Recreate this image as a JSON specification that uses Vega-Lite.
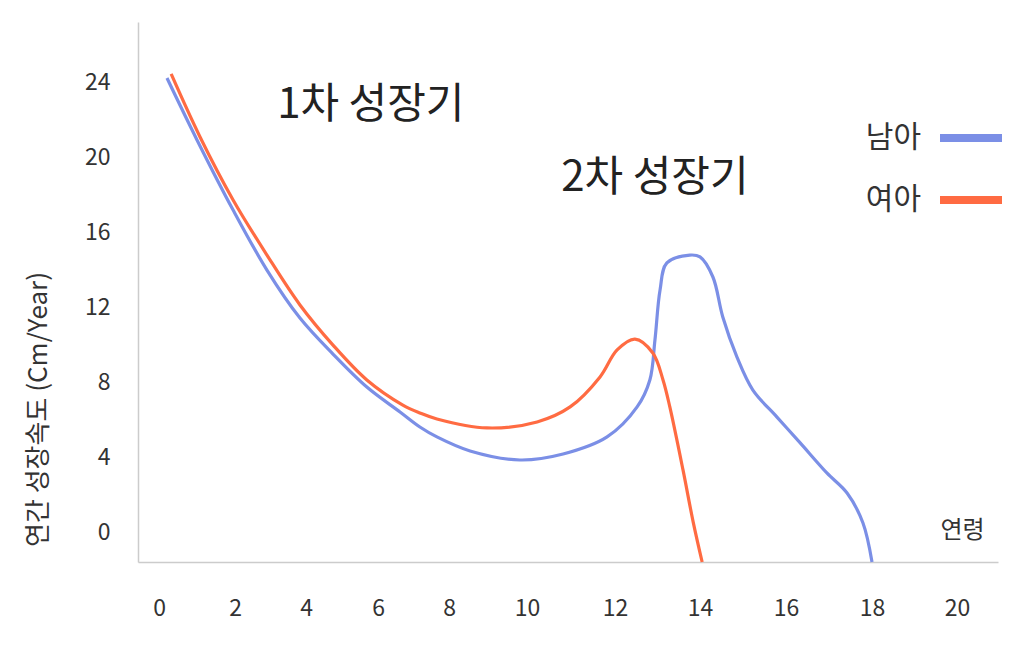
{
  "$schema": "https://vega.github.io/schema/vega-lite/v6.json",
  "width": 860,
  "height": 540,
  "autosize": "none",
  "padding": {"left": 138, "top": 22, "right": 16, "bottom": 92},
  "background": "white",
  "config": {
    "font": "Noto Sans CJK KR",
    "view": {"stroke": null}
  },
  "layer": [
    {
      "data": {
        "values": [
          {"sex": "남아", "age": 0.21, "rate": 24.21},
          {"sex": "남아", "age": 1.0, "rate": 20.91},
          {"sex": "남아", "age": 1.95, "rate": 17.17},
          {"sex": "남아", "age": 2.9, "rate": 13.97},
          {"sex": "남아", "age": 3.83, "rate": 11.41},
          {"sex": "남아", "age": 4.75, "rate": 9.49},
          {"sex": "남아", "age": 5.69, "rate": 7.73},
          {"sex": "남아", "age": 6.62, "rate": 6.4},
          {"sex": "남아", "age": 7.18, "rate": 5.6},
          {"sex": "남아", "age": 7.66, "rate": 5.07},
          {"sex": "남아", "age": 8.54, "rate": 4.32},
          {"sex": "남아", "age": 9.82, "rate": 3.84},
          {"sex": "남아", "age": 10.82, "rate": 4.16},
          {"sex": "남아", "age": 11.82, "rate": 5.07},
          {"sex": "남아", "age": 12.52, "rate": 6.67},
          {"sex": "남아", "age": 12.82, "rate": 8.11},
          {"sex": "남아", "age": 12.94, "rate": 10.24},
          {"sex": "남아", "age": 13.06, "rate": 12.91},
          {"sex": "남아", "age": 13.22, "rate": 14.35},
          {"sex": "남아", "age": 13.76, "rate": 14.77},
          {"sex": "남아", "age": 14.0, "rate": 14.67},
          {"sex": "남아", "age": 14.3, "rate": 13.6},
          {"sex": "남아", "age": 14.53, "rate": 11.47},
          {"sex": "남아", "age": 14.86, "rate": 9.33},
          {"sex": "남아", "age": 15.23, "rate": 7.57},
          {"sex": "남아", "age": 15.79, "rate": 6.13},
          {"sex": "남아", "age": 16.33, "rate": 4.75},
          {"sex": "남아", "age": 16.95, "rate": 3.15},
          {"sex": "남아", "age": 17.42, "rate": 2.08},
          {"sex": "남아", "age": 17.79, "rate": 0.48},
          {"sex": "남아", "age": 18.0, "rate": -1.6},
          {"sex": "여아", "age": 0.32, "rate": 24.43},
          {"sex": "여아", "age": 1.08, "rate": 21.07},
          {"sex": "여아", "age": 1.95, "rate": 17.71},
          {"sex": "여아", "age": 2.9, "rate": 14.77},
          {"sex": "여아", "age": 3.83, "rate": 12.11},
          {"sex": "여아", "age": 4.75, "rate": 9.97},
          {"sex": "여아", "age": 5.69, "rate": 8.11},
          {"sex": "여아", "age": 6.7, "rate": 6.77},
          {"sex": "여아", "age": 7.18, "rate": 6.35},
          {"sex": "여아", "age": 7.66, "rate": 6.03},
          {"sex": "여아", "age": 8.97, "rate": 5.55},
          {"sex": "여아", "age": 10.23, "rate": 5.87},
          {"sex": "여아", "age": 10.98, "rate": 6.67},
          {"sex": "여아", "age": 11.66, "rate": 8.27},
          {"sex": "여아", "age": 12.05, "rate": 9.71},
          {"sex": "여아", "age": 12.47, "rate": 10.29},
          {"sex": "여아", "age": 12.89, "rate": 9.55},
          {"sex": "여아", "age": 13.13, "rate": 8.11},
          {"sex": "여아", "age": 13.29, "rate": 6.67},
          {"sex": "여아", "age": 13.6, "rate": 3.31},
          {"sex": "여아", "age": 13.84, "rate": 0.53},
          {"sex": "여아", "age": 14.05, "rate": -1.6}
        ]
      },
      "mark": {"type": "line", "interpolate": "catmull-rom", "strokeWidth": 3.2, "clip": false},
      "encoding": {
        "x": {
          "field": "age",
          "type": "quantitative",
          "scale": {
            "domain": [-0.55, 0, 2, 4, 6, 8, 10, 12, 14, 16, 18, 20, 21],
            "range": [0, 21, 97, 168, 240, 311, 389, 477, 562, 648, 734, 819, 860],
            "nice": false,
            "zero": false
          },
          "axis": {
            "values": [0, 2, 4, 6, 8, 10, 12, 14, 16, 18, 20],
            "grid": false,
            "ticks": false,
            "domainColor": "#cccccc",
            "domainWidth": 1.5,
            "labelFontSize": 23,
            "labelColor": "#333333",
            "labelPadding": 35,
            "title": "연령",
            "titleFontSize": 24,
            "titleFontWeight": "normal",
            "titleColor": "#333333",
            "titleX": 824,
            "titleY": -32,
            "titleAlign": "center",
            "titleBaseline": "middle"
          }
        },
        "y": {
          "field": "rate",
          "type": "quantitative",
          "scale": {"domain": [-1.6, 27.2], "nice": false, "zero": false},
          "axis": {
            "values": [0, 4, 8, 12, 16, 20, 24],
            "grid": false,
            "ticks": false,
            "domainColor": "#cccccc",
            "domainWidth": 1.5,
            "labelFontSize": 23,
            "labelColor": "#333333",
            "labelPadding": 28,
            "title": "연간 성장속도 (Cm/Year)",
            "titleFontSize": 26,
            "titleFontWeight": "normal",
            "titleColor": "#333333",
            "titleX": -100,
            "titleY": 387,
            "titleAngle": -90,
            "titleAlign": "center",
            "titleBaseline": "middle"
          }
        },
        "color": {
          "field": "sex",
          "type": "nominal",
          "scale": {"domain": ["남아", "여아"], "range": ["#7b8fe6", "#ff6b42"]},
          "legend": {
            "title": null,
            "orient": "none",
            "legendX": 798,
            "legendY": 81,
            "symbolType": "stroke",
            "symbolSize": 3844,
            "symbolStrokeWidth": 8,
            "labelFontSize": 30,
            "labelColor": "#333333",
            "labelAlign": "right",
            "labelOffset": -85,
            "rowPadding": 11,
            "labelLimit": 0
          }
        }
      }
    },
    {
      "data": {
        "values": [
          {"label": "1차 성장기", "age": 5.8, "rate": 22.8},
          {"label": "2차 성장기", "age": 12.94, "rate": 18.9}
        ]
      },
      "mark": {"type": "text", "fontSize": 42, "color": "#222222", "align": "center", "baseline": "middle", "letterSpacing": -1},
      "encoding": {
        "x": {"field": "age", "type": "quantitative"},
        "y": {"field": "rate", "type": "quantitative"},
        "text": {"field": "label"}
      }
    }
  ]
}
